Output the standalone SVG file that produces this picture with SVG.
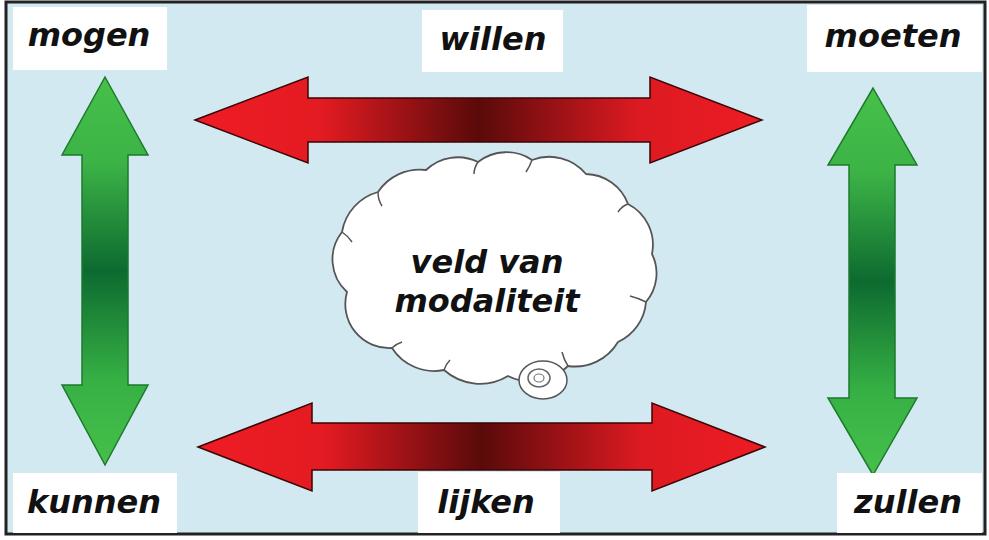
<svg xmlns="http://www.w3.org/2000/svg" width="989" height="540" viewBox="0 0 989 540">
<defs>
<style>
.lbl{font-family:"DejaVu Sans",Verdana,sans-serif;font-weight:bold;font-style:italic;font-size:32px;fill:#111;text-anchor:middle}
.box{fill:#ffffff}
.red{stroke:#3a0505;stroke-width:1.5;stroke-linejoin:miter}
.green{stroke:#1d7a2c;stroke-width:1.5}
</style>
<linearGradient id="gRed" x1="0" y1="0" x2="1" y2="0">
<stop offset="0" stop-color="#ee1c24"/>
<stop offset="0.22" stop-color="#e41b22"/>
<stop offset="0.5" stop-color="#5a0a0a"/>
<stop offset="0.78" stop-color="#dc1a21"/>
<stop offset="1" stop-color="#ee1c24"/>
</linearGradient>
<linearGradient id="gGreen" x1="0" y1="0" x2="0" y2="1">
<stop offset="0" stop-color="#46c04a"/>
<stop offset="0.22" stop-color="#3cb346"/>
<stop offset="0.5" stop-color="#0d6a30"/>
<stop offset="0.78" stop-color="#36b044"/>
<stop offset="1" stop-color="#46c04a"/>
</linearGradient>
</defs>
<rect x="6" y="2" width="979" height="532" fill="#d3e9f2" stroke="#222" stroke-width="3"/>

<g id="connectors">
<path id="arrow-top" class="red" fill="url(#gRed)" d="M195,120 L308,77 L308,98 L650,98 L650,77 L762,120 L650,163 L650,142 L308,142 L308,163 Z"/>
<path id="arrow-bottom" class="red" fill="url(#gRed)" d="M198,447 L312,403 L312,423 L652,423 L652,403 L765,447 L652,491 L652,470 L312,470 L312,491 Z"/>
<path id="arrow-left" class="green" fill="url(#gGreen)" d="M105,77 L148,155 L128,155 L128,385 L148,385 L105,465 L62,385 L82,385 L82,155 L62,155 Z"/>
<path id="arrow-right" class="green" fill="url(#gGreen)" d="M873,88 L917,165 L895,165 L895,398 L917,398 L873,475 L828,398 L849,398 L849,165 L828,165 Z"/>
</g>

<g id="node-mogen">
<rect class="box" x="13" y="7" width="154" height="63"/>
<text class="lbl" x="89" y="46">mogen</text>
</g>
<g id="node-willen">
<rect class="box" x="422" y="10" width="141" height="62"/>
<text class="lbl" x="493" y="50">willen</text>
</g>
<g id="node-moeten">
<rect class="box" x="807" y="5" width="175" height="67"/>
<text class="lbl" x="893" y="47">moeten</text>
</g>
<g id="node-kunnen">
<rect class="box" x="13" y="473" width="164" height="60"/>
<text class="lbl" x="94" y="513">kunnen</text>
</g>
<g id="node-lijken">
<rect class="box" x="418" y="472" width="142" height="61"/>
<text class="lbl" x="486" y="513">lijken</text>
</g>
<g id="node-zullen">
<rect class="box" x="837" y="473" width="145" height="60"/>
<text class="lbl" x="908" y="513">zullen</text>
</g>

<g id="node-cloud">
<path fill="#ffffff" stroke="#555" stroke-width="1.8" d="M347,292 A44,44 0 0 1 342,232 A50,50 0 0 1 378,192 A50,50 0 0 1 426,170 A46,46 0 0 1 478,162 A46,46 0 0 1 532,160 A48,48 0 0 1 586,174 A46,46 0 0 1 628,204 A46,46 0 0 1 652,254 A44,44 0 0 1 646,302 A48,48 0 0 1 618,342 A50,50 0 0 1 568,366 A52,52 0 0 1 508,376 A54,54 0 0 1 444,370 A50,50 0 0 1 392,348 A44,44 0 0 1 347,292 Z"/>
<path fill="none" stroke="#555" stroke-width="1.5" d="M342,232 q6,4 10,10 M378,192 q0,8 4,14 M478,162 q-4,6 -4,12 M532,160 q-2,6 -6,12 M628,204 q-6,2 -10,8 M646,302 q-8,-4 -16,-6 M568,366 q-4,-6 -6,-14 M444,370 q2,-6 6,-10 M392,348 q4,-4 10,-6"/>
<ellipse cx="543" cy="380" rx="24" ry="19" fill="#ffffff" stroke="#555" stroke-width="1.5"/>
<ellipse cx="539" cy="378" rx="11" ry="9" fill="none" stroke="#666" stroke-width="1.5"/>
<ellipse cx="539" cy="378" rx="5" ry="4" fill="none" stroke="#777" stroke-width="1.2"/>
<text class="lbl" x="487" y="273">veld van</text>
<text class="lbl" x="487" y="312">modaliteit</text>
</g>
</svg>
